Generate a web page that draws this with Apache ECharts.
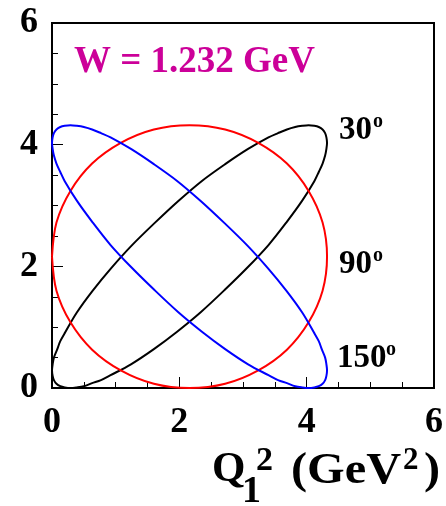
<!DOCTYPE html>
<html>
<head>
<meta charset="utf-8">
<script src="https://cdn.jsdelivr.net/npm/echarts@6/dist/echarts.min.js"></script>
<style>
  html, body { margin: 0; padding: 0; background: #fff; }
  #chart { width: 446px; height: 506px; }
</style>
</head>
<body>
<div id="chart"></div>
<script>
// Kinematic boundaries in the (Q1^2, Q2^2) plane, GeV^2, for W = 1.232 GeV
const xTicks = [0, 2, 4, 6];
const yTicks = [0, 2, 4, 6];

// theta = 30 deg (black)
const curve30 = [
  [1.61, 2.71], [1.25, 2.34], [0.93, 1.97], [0.64, 1.60], [0.39, 1.24], [0.21, 0.92],
  [0.13, 0.77], [0.08, 0.63], [0.03, 0.50], [0.01, 0.39], [0.00, 0.29], [0.01, 0.20],
  [0.03, 0.13], [0.07, 0.07], [0.13, 0.03], [0.20, 0.01], [0.29, 0.00], [0.39, 0.01],
  [0.50, 0.03], [0.63, 0.08], [0.77, 0.13], [0.92, 0.21], [1.24, 0.39], [1.60, 0.64],
  [1.97, 0.93], [2.34, 1.25], [2.71, 1.61], [3.07, 1.98], [3.40, 2.35], [3.68, 2.72],
  [3.93, 3.08], [4.12, 3.40], [4.19, 3.55], [4.25, 3.69], [4.29, 3.82], [4.31, 3.93],
  [4.32, 4.03], [4.31, 4.12], [4.29, 4.19], [4.25, 4.25], [4.19, 4.29], [4.12, 4.31],
  [4.03, 4.32], [3.93, 4.31], [3.82, 4.29], [3.69, 4.25], [3.55, 4.19], [3.40, 4.12],
  [3.08, 3.93], [2.72, 3.68], [2.35, 3.40], [1.98, 3.07], [1.61, 2.71]
];

// theta = 90 deg (red)
const curve90 = [
  [0.00, 2.16], [0.07, 1.60], [0.29, 1.08], [0.63, 0.63], [1.08, 0.29], [1.60, 0.07],
  [2.16, 0.00], [2.72, 0.07], [3.24, 0.29], [3.69, 0.63], [4.03, 1.08], [4.25, 1.60],
  [4.32, 2.16], [4.25, 2.72], [4.03, 3.24], [3.69, 3.69], [3.24, 4.03], [2.72, 4.25],
  [2.16, 4.32], [1.60, 4.25], [1.08, 4.03], [0.63, 3.69], [0.29, 3.24], [0.07, 2.72],
  [0.00, 2.16]
];

// theta = 150 deg (blue)
const curve150 = [
  [2.71, 2.71], [3.07, 2.34], [3.39, 1.97], [3.68, 1.60], [3.93, 1.24], [4.11, 0.92],
  [4.19, 0.77], [4.24, 0.63], [4.29, 0.50], [4.31, 0.39], [4.32, 0.29], [4.31, 0.20],
  [4.29, 0.13], [4.25, 0.07], [4.19, 0.03], [4.12, 0.01], [4.03, 0.00], [3.93, 0.01],
  [3.82, 0.03], [3.69, 0.08], [3.55, 0.13], [3.40, 0.21], [3.08, 0.39], [2.72, 0.64],
  [2.35, 0.93], [1.98, 1.25], [1.61, 1.61], [1.25, 1.98], [0.92, 2.35], [0.64, 2.72],
  [0.39, 3.08], [0.20, 3.40], [0.13, 3.55], [0.07, 3.69], [0.03, 3.82], [0.01, 3.93],
  [0.00, 4.03], [0.01, 4.12], [0.03, 4.19], [0.07, 4.25], [0.13, 4.29], [0.20, 4.31],
  [0.29, 4.32], [0.39, 4.31], [0.50, 4.29], [0.63, 4.25], [0.77, 4.19], [0.92, 4.12],
  [1.24, 3.93], [1.60, 3.68], [1.97, 3.40], [2.34, 3.07], [2.71, 2.71]
];

const curveLabels = ['30', '90', '150'];

const SERIF = '"Liberation Serif", "DejaVu Serif", serif';
const chart = echarts.init(document.getElementById('chart'), null, { renderer: 'canvas' });

function curve(data, color) {
  return {
    type: 'line',
    data: data,
    smooth: 0.33,
    showSymbol: false,
    clip: false,
    silent: true,
    lineStyle: { color: color, width: 2 },
    z: 3
  };
}

function axisCommon(ticks) {
  return {
    type: 'value',
    min: ticks[0],
    max: ticks[ticks.length - 1],
    interval: ticks[1] - ticks[0],
    axisLine: { show: true, lineStyle: { color: '#000', width: 2 } },
    axisTick: { show: true, inside: true, length: 11, lineStyle: { color: '#000', width: 1 } },
    minorTick: { show: true, splitNumber: 4, length: 6, lineStyle: { color: '#000', width: 1 } },
    splitLine: { show: false },
    axisLabel: {
      color: '#000',
      fontFamily: SERIF,
      fontWeight: 'bold',
      fontSize: 36
    }
  };
}

const xAxis = axisCommon(xTicks);
xAxis.axisLabel.margin = 17;
const yAxis = axisCommon(yTicks);
yAxis.axisLabel.margin = 14;

function txt(text, x, y, size, color, sx) {
  return {
    type: 'text',
    x: x,
    y: y,
    scaleX: sx || 1,
    silent: true,
    style: {
      text: text,
      fill: color || '#000',
      font: 'bold ' + size + 'px ' + SERIF,
      align: 'left',
      verticalAlign: 'middle'
    }
  };
}

const option = {
  animation: false,
  backgroundColor: '#fff',
  grid: {
    left: 52, right: 11, top: 23, bottom: 118,
    show: true, borderColor: '#000', borderWidth: 2, backgroundColor: 'transparent'
  },
  xAxis: xAxis,
  yAxis: yAxis,
  series: [
    curve(curve30, '#000000'),
    curve(curve90, '#ff0000'),
    curve(curve150, '#0000ff')
  ],
  graphic: [
    txt('W = 1.232 GeV', 74, 62, 37, '#cc0099'),
    // curve labels with degree marks
    txt(curveLabels[0], 339, 130, 33), txt('o', 373, 122, 20),
    txt(curveLabels[1], 339, 264, 33), txt('o', 373, 256, 20),
    txt(curveLabels[2], 337, 358, 33), txt('o', 386, 350, 20),
    // axis title: Q1^2 (GeV^2)
    txt('Q', 212, 470, 43),
    txt('1', 242, 492, 38),
    txt('2', 256, 461, 34),
    txt('(GeV', 291, 472, 44, '#000', 1.1),
    txt('2', 403, 461, 31),
    txt(')', 424, 472, 44, '#000', 1.1)
  ]
};

chart.setOption(option);
</script>
</body>
</html>
